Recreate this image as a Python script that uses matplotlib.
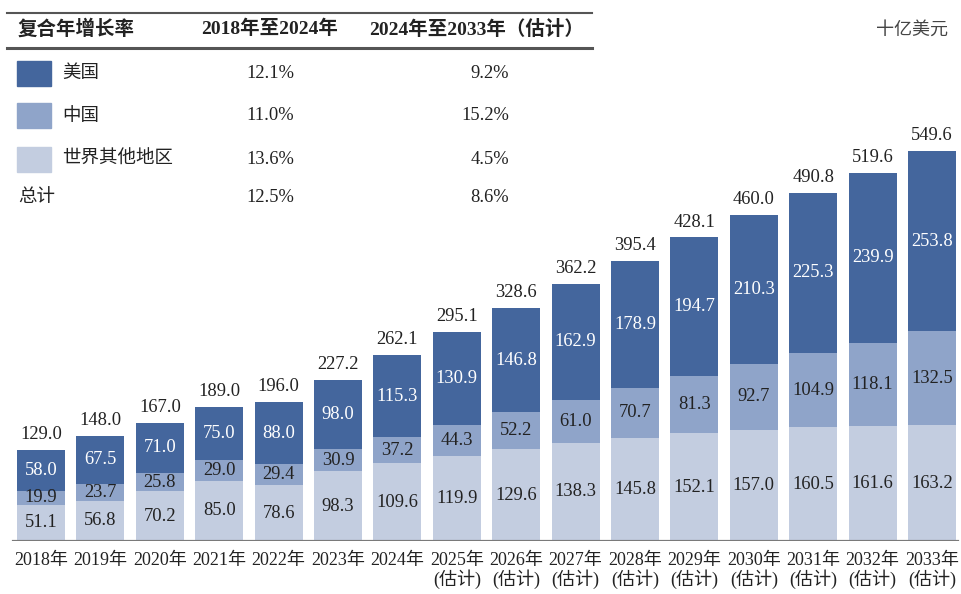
import matplotlib
matplotlib.use("Agg")
import matplotlib.pyplot as plt
from matplotlib.lines import Line2D
from matplotlib.patches import Rectangle
import numpy as np

years = ["2018", "2019", "2020", "2021", "2022", "2023", "2024", "2025",
         "2026", "2027", "2028", "2029", "2030", "2031", "2032", "2033"]
rest = [51.1, 56.8, 70.2, 85.0, 78.6, 98.3, 109.6, 119.9,
        129.6, 138.3, 145.8, 152.1, 157.0, 160.5, 161.6, 163.2]
china = [19.9, 23.7, 25.8, 29.0, 29.4, 30.9, 37.2, 44.3,
         52.2, 61.0, 70.7, 81.3, 92.7, 104.9, 118.1, 132.5]
usa = [58.0, 67.5, 71.0, 75.0, 88.0, 98.0, 115.3, 130.9,
       146.8, 162.9, 178.9, 194.7, 210.3, 225.3, 239.9, 253.8]
totals = [129.0, 148.0, 167.0, 189.0, 196.0, 227.2, 262.1, 295.1,
          328.6, 362.2, 395.4, 428.1, 460.0, 490.8, 519.6, 549.6]
first_estimate = "2025"

series_names = ["美国", "中国", "世界其他地区"]
cagr_1824 = ["12.1%", "11.0%", "13.6%", "12.5%"]
cagr_2433 = ["9.2%", "15.2%", "4.5%", "8.6%"]

C_USA = "#44669d"
C_CN = "#8fa4c9"
C_ROW = "#c3cde0"
TXT = "#222222"

SERIF = ["Liberation Serif", "Noto Sans CJK SC"]
CJK = ["Noto Sans CJK SC", "Liberation Serif"]

W, H = 961, 594
fig = plt.figure(figsize=(W / 100, H / 100), dpi=100)

# axes: baseline at y=541px, full width
base_px = 541
ax = fig.add_axes([0, (H - base_px) / H, 1, base_px / H])
ax.set_xlim(-41 / 59.4, (W - 41) / 59.4)
ax.set_ylim(0, base_px / 0.709)
for s in ax.spines.values():
    s.set_visible(False)
ax.set_yticks([])

x = np.arange(len(years))
rest_a = np.array(rest)
china_a = np.array(china)
usa_a = np.array(usa)
bw = 48 / 59.4
ax.bar(x, rest_a, bw, color=C_ROW, zorder=2)
ax.bar(x, china_a, bw, bottom=rest_a, color=C_CN, zorder=2)
ax.bar(x, usa_a, bw, bottom=rest_a + china_a, color=C_USA, zorder=2)

ax.axhline(0, xmin=13 / W, xmax=957 / W, color="#7a7a7a", lw=2.3, zorder=3)

fs = 13.3
for i in range(len(years)):
    ax.text(x[i], rest_a[i] / 2, f"{rest[i]:.1f}", ha="center", va="center",
            fontsize=fs, family=SERIF, color=TXT, zorder=4)
    ax.text(x[i], rest_a[i] + china_a[i] / 2, f"{china[i]:.1f}", ha="center",
            va="center", fontsize=fs, family=SERIF, color=TXT, zorder=4)
    ax.text(x[i], rest_a[i] + china_a[i] + usa_a[i] / 2, f"{usa[i]:.1f}",
            ha="center", va="center", fontsize=fs, family=SERIF, color="white",
            zorder=4)
    ax.annotate(f"{totals[i]:.1f}", (x[i], rest_a[i] + china_a[i] + usa_a[i]),
                xytext=(0, 5), textcoords="offset points", ha="center",
                va="bottom", fontsize=fs, family=SERIF, color=TXT)

labels = []
for y in years:
    if int(y) >= int(first_estimate):
        labels.append(f"{y}年\n(估计)")
    else:
        labels.append(f"{y}年")
ax.set_xticks(x)
ax.set_xticklabels(labels, fontsize=13, family=SERIF, color=TXT,
                   linespacing=1.02)
ax.tick_params(axis="x", length=0, pad=8)


def fx(px):
    return px / W


def fy(py):
    return 1 - py / H


# table lines
fig.add_artist(Line2D([fx(7), fx(592)], [fy(13), fy(13)], color="#555555", lw=1.5))
fig.add_artist(Line2D([fx(7), fx(592)], [fy(48), fy(48)], color="#555555", lw=2.2))

fig.text(fx(18), fy(29), "复合年增长率", ha="left", va="center", fontsize=14,
         family=CJK, weight="bold", color=TXT)
fig.text(fx(270), fy(29), "2018年至2024年", ha="center", va="center",
         fontsize=14, family=SERIF, weight="bold", color=TXT)
fig.text(fx(477), fy(29), "2024年至2033年（估计）", ha="center", va="center",
         fontsize=14, family=SERIF, weight="bold", color=TXT)

row_y = [73, 116, 159, 197]
row_names = series_names + ["总计"]
swatches = [C_USA, C_CN, C_ROW, None]
for r in range(4):
    yy = row_y[r]
    if swatches[r] is not None:
        fig.add_artist(Rectangle((fx(17), fy(yy + 12.5)), 34 / W, 25 / H,
                                 color=swatches[r], transform=fig.transFigure))
        tx = 62
    else:
        tx = 18
    fig.text(fx(tx), fy(yy), row_names[r], ha="left", va="center",
             fontsize=13.3, family=CJK, color=TXT)
    fig.text(fx(294), fy(yy), cagr_1824[r], ha="right", va="center",
             fontsize=13.3, family=SERIF, color=TXT)
    fig.text(fx(509), fy(yy), cagr_2433[r], ha="right", va="center",
             fontsize=13.3, family=SERIF, color=TXT)

fig.text(fx(948), fy(30), "十亿美元", ha="right", va="center", fontsize=13,
         family=CJK, style="italic", color="#444444")

fig.savefig("out.png", dpi=100)
